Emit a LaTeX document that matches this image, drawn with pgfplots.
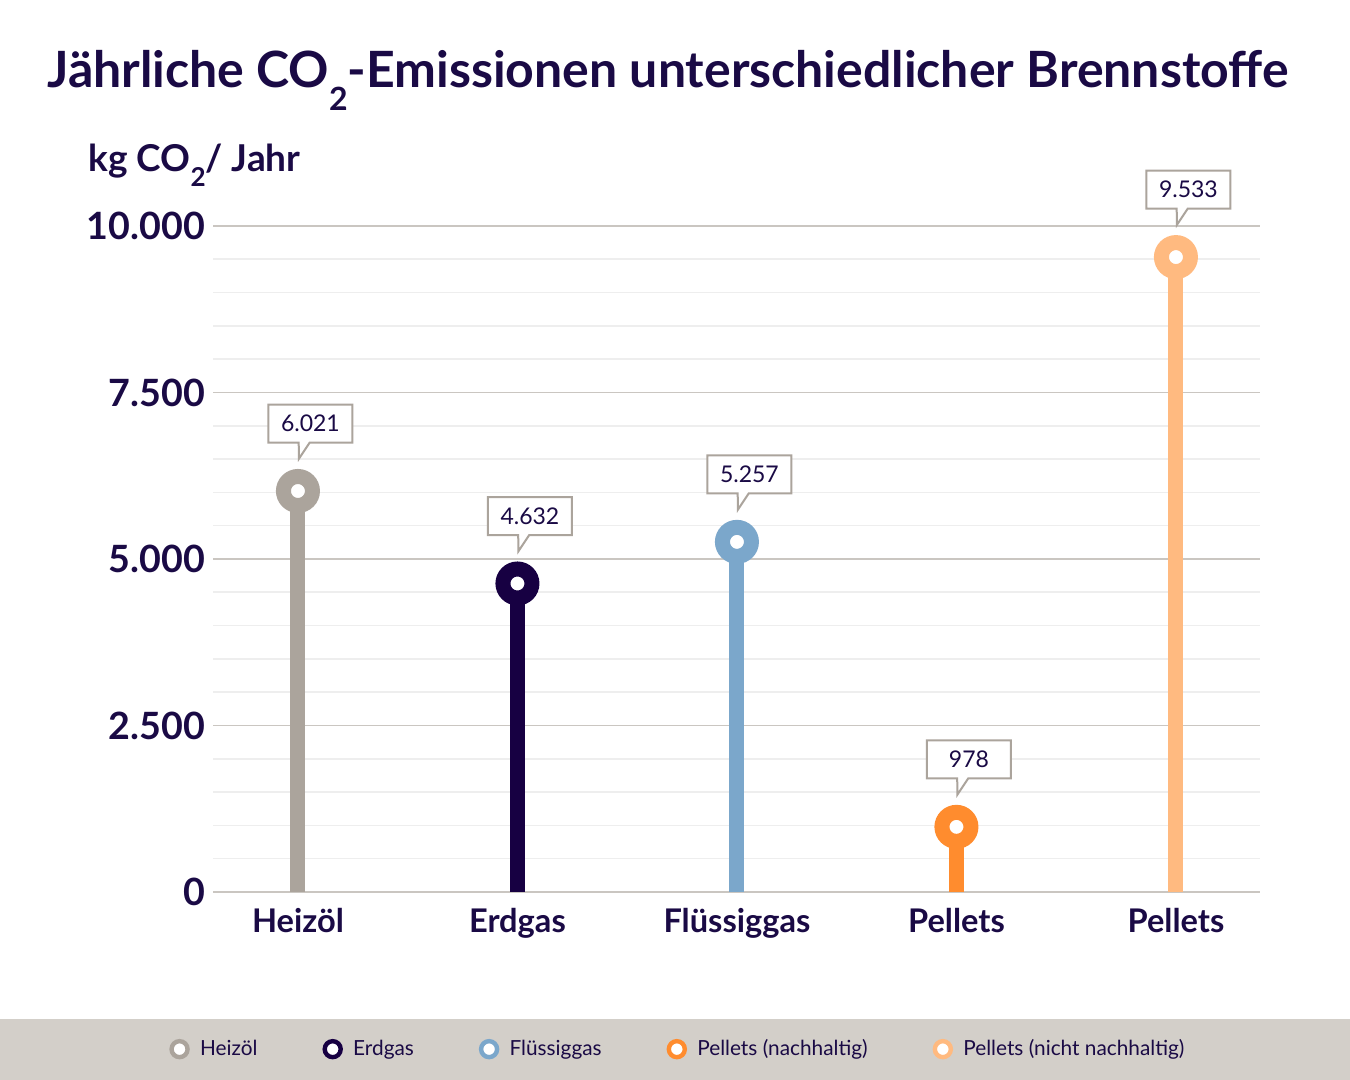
\documentclass[border=0pt]{standalone}
\usepackage{fontspec}
\setmainfont{Lato}
\usepackage{pgfplots}
\pgfplotsset{compat=1.18}
\usetikzlibrary{shapes.callouts}
\definecolor{txt}{HTML}{1A0A45}
\definecolor{cHeiz}{HTML}{ABA49C}
\definecolor{cErd}{HTML}{170042}
\definecolor{cFl}{HTML}{7BA7CB}
\definecolor{cPn}{HTML}{FF8C2E}
\definecolor{cPnn}{HTML}{FFBA80}
\definecolor{band}{HTML}{D3CFC9}
\definecolor{gmaj}{HTML}{CAC6C1}
\definecolor{gmin}{HTML}{EEEEEE}
\pgfplotsset{
  lolli/.style={ycomb, color=#1, line width=7.5pt, mark=*, mark size=7.25pt,
    mark options={fill=white, draw=#1, line width=7.5pt},
    legend image code/.code={\draw[draw=#1, line width=2.2pt, fill=white] (0.15cm,0cm) circle (4pt);
      \path (0.15cm+4.5pt,0cm);}},
}
\begin{document}
\begin{tikzpicture}
\fill[white] (0,0) rectangle (675pt,540pt);
\fill[band] (0,0) rectangle (675pt,30.5pt);
\node[anchor=base, font=\bfseries\fontsize{25}{25}\selectfont, text=txt] at (334pt,496pt)
  {Jährliche CO\raisebox{-0.45em}{\fontsize{16}{16}\selectfont 2}-Emissionen unterschiedlicher Brennstoffe};
\node[anchor=base west, font=\bfseries\fontsize{18.5}{18.5}\selectfont, text=txt, inner sep=0pt] at (44pt,454pt)
  {kg CO\raisebox{-0.4em}{\fontsize{13}{13}\selectfont 2}/ Jahr};
\begin{axis}[
  at={(106.5pt,94pt)}, anchor=south west,
  width=523.5pt, height=333pt, scale only axis,
  xmin=-0.387, xmax=4.383, ymin=0, ymax=10000,
  clip=false,
  axis line style={draw=none},
  tick style={draw=none},
  ytick={0,2500,5000,7500,10000},
  minor y tick num=4,
  ymajorgrids, yminorgrids,
  major grid style={draw=gmaj, line width=0.8pt},
  minor grid style={draw=gmin, line width=0.8pt},
  scaled y ticks=false,
  /pgf/number format/.cd, 1000 sep={.}, assume math mode=true, /pgfplots/.cd,
  yticklabel style={font=\bfseries\fontsize{18.8}{18.8}\selectfont, text=txt, xshift=-0.5pt},
  xtick={0,1,2,3,4},
  xticklabels={Heizöl,Erdgas,Flüssiggas,Pellets,Pellets},
  xticklabel style={font=\bfseries\fontsize{16.3}{16.3}\selectfont, text=txt, yshift=-4.5pt},
  nodes near coords,
  every node near coord/.append style={rectangle callout, draw=cHeiz, line width=1pt,
    fill=white, text=txt, font=\fontsize{11.5}{11.5}\selectfont, minimum width=42pt,
    minimum height=19pt, inner sep=2pt,
    callout relative pointer={(canvas cs:x=-2.65pt,y=-8.1pt)},
    callout pointer width=5.5pt, anchor=pointer, yshift=14.5pt},
  legend columns=5,
  legend style={at={(0.445,-0.236)}, anchor=center, draw=none, fill=none,
    font=\fontsize{10.4}{11}\selectfont, text=txt,
    /tikz/every even column/.append style={column sep=30.5pt}},
]
\addplot[lolli=cHeiz] coordinates {(0,6021)};
\addplot[lolli=cErd] coordinates {(1,4632)};
\addplot[lolli=cFl] coordinates {(2,5257)};
\addplot[lolli=cPn] coordinates {(3,978)};
\addplot[lolli=cPnn] coordinates {(4,9533)};
\legend{Heizöl,Erdgas,Flüssiggas,Pellets (nachhaltig),Pellets (nicht nachhaltig)}
\end{axis}
\end{tikzpicture}
\end{document}
